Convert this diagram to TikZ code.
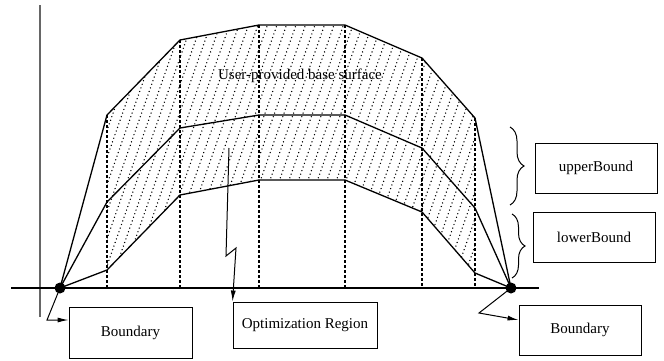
\documentclass[tikz,border=0pt]{standalone}
\usepackage{fontspec}
\setmainfont{Liberation Serif}
\usetikzlibrary{arrows.meta,decorations.pathreplacing}

\begin{document}
\begin{tikzpicture}[x=1pt, y=-1pt,
  surf/.style={line width=1.3pt, line join=round},
  grid/.style={line width=1.1pt, dash pattern=on 3pt off 2pt},
  hatch/.style={line width=1.5pt, dash pattern=on 0.01pt off 3.8pt, line cap=round},
  labelbox/.style={draw, line width=0.9pt, minimum width=122pt, minimum height=50pt, font=\fontsize{15}{18}\selectfont},
  pointer/.style={line width=1pt, -{Latex[length=11pt,width=5pt]}}]
\useasboundingbox (0,0) rectangle (664,360);

% axes
\draw[line width=1.2pt, black!60] (40,5) -- (40,317);
\draw[line width=1.2pt] (11,288) -- (539,288);

% hatched band between the upper surface and lowerBound
\begin{scope}
  \clip (107,115) -- (180,40) -- (259,25) -- (345,25) -- (422,58) -- (475,118)
     -- (475,273) -- (422,212) -- (345,180) -- (259,180) -- (180,195) -- (107,270) -- cycle;
  \foreach \x in {0,9.5,...,630} {
    \draw[hatch] (\x,300) -- ({\x+100},15);
  }
\end{scope}

% dashed grid lines
\foreach \x/\y in {107/115, 180/40, 259/25, 345/25, 422/58, 475/118} {
  \draw[grid] (\x,\y) -- (\x,288);
}

% boundary points
\node[circle, fill=black, inner sep=0pt, minimum size=11pt] (lb) at (60,288) {};
\node[circle, fill=black, inner sep=0pt, minimum size=11pt] (rb) at (511,288) {};

% surfaces
\draw[surf] (lb.center) -- (107,115) -- (180,40) -- (259,25) -- (345,25) -- (422,58) -- (475,118) -- (rb.center);
\draw[surf] (lb.center) -- (107,202) -- (180,128) -- (259,115) -- (345,115) -- (422,148) -- (475,208) -- (rb.center);
\draw[surf] (lb.center) -- (107,270) -- (180,195) -- (259,180) -- (345,180) -- (422,212) -- (475,273) -- (rb.center);

\node[font=\fontsize{15}{18}\selectfont] (basetxt) at (300,76) {User-provided base surface};

% braces
\draw[line width=1pt, decorate, decoration={brace, amplitude=14pt}] (510,127) -- (510,205);
\draw[line width=1pt, decorate, decoration={brace, amplitude=13pt}] (512,214) -- (512,278);

% label boxes
\node[labelbox] (ubox) at (596,168) {upperBound};
\node[labelbox] (lwbox) at (594,237) {lowerBound};
\node[labelbox] (rbox) at (580,330) {Boundary};
\node[labelbox, minimum width=123pt, minimum height=51pt] (lbox) at (130.5,332.5) {Boundary};
\node[labelbox, minimum width=144pt, minimum height=46pt] (obox) at (305,325) {Optimization Region};

% pointers
\coordinate (lbk) at (47,320);
\draw[pointer] (lb.center) -- (lbk) -- (lbk -| lbox.west);
\coordinate (rbk) at (479,313);
\draw[pointer] (rb.center) -- (rbk) -- ([yshift=10pt]rbox.west);
\coordinate (o1) at (229,148);
\coordinate (o2) at (226,256);
\coordinate (o3) at (236,248);
\draw[pointer] (o1) -- (o2) -- (o3) -- (obox.north west);
\end{tikzpicture}
\end{document}
